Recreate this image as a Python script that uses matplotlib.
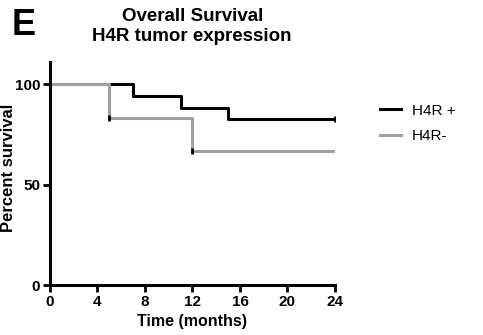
import matplotlib.pyplot as plt

plt.rcParams["font.family"] = ["Liberation Sans", "DejaVu Sans"]

# Kaplan-Meier steps
pos_time = [0, 7, 11, 15, 24]
pos_surv = [100, 94.1, 88.2, 82.4, 82.4]
neg_time = [0, 5, 12, 24]
neg_surv = [100, 83.3, 66.7, 66.7]

pos_cens_t = [24]
pos_cens_s = [82.4]
neg_cens_t = [5, 12]
neg_cens_s = [83.3, 66.7]

xticks = [0, 4, 8, 12, 16, 20, 24]
yticks = [0, 50, 100]

fig = plt.figure(figsize=(4.83, 3.35), dpi=100)
ax = fig.add_axes([0.1035, 0.149, 0.59, 0.666])

ax.step(pos_time, pos_surv, where="post", color="black", lw=2.2, label="H4R +")
ax.step(neg_time, neg_surv, where="post", color="#a0a0a0", lw=2.2, label="H4R-")
ax.plot(pos_cens_t, pos_cens_s, ls="none", marker="|", ms=5, mew=2, color="black")
ax.plot(neg_cens_t, neg_cens_s, ls="none", marker="|", ms=4, mew=2, color="black")

ax.set_xlim(0, 24)
ax.set_ylim(0, 111)
ax.set_xticks(xticks)
ax.set_yticks(yticks)
ax.spines["top"].set_visible(False)
ax.spines["right"].set_visible(False)
for s in ("left", "bottom"):
    ax.spines[s].set_linewidth(2.2)
ax.tick_params(width=2, length=5, labelsize=11, pad=2)
for lbl in ax.get_xticklabels() + ax.get_yticklabels():
    lbl.set_fontweight("bold")

ax.set_xlabel("Time (months)", fontsize=11.5, fontweight="bold", labelpad=4)
fig.text(0.017, 0.5, "Percent survival", rotation=90, fontsize=12,
         fontweight="bold", ha="center", va="center")

fig.text(0.398, 0.975, "Overall Survival\nH4R tumor expression", fontsize=13.5,
         fontweight="bold", ha="center", va="top", linespacing=1.2)
fig.text(0.025, 0.975, "E", fontsize=26, fontweight="bold", ha="left", va="top")

ax.legend(loc="upper left", bbox_to_anchor=(1.11, 0.875), frameon=False,
          fontsize=11, handlelength=1.4, handletextpad=0.7, labelspacing=0.75)

fig.savefig("out.png", dpi=100)
